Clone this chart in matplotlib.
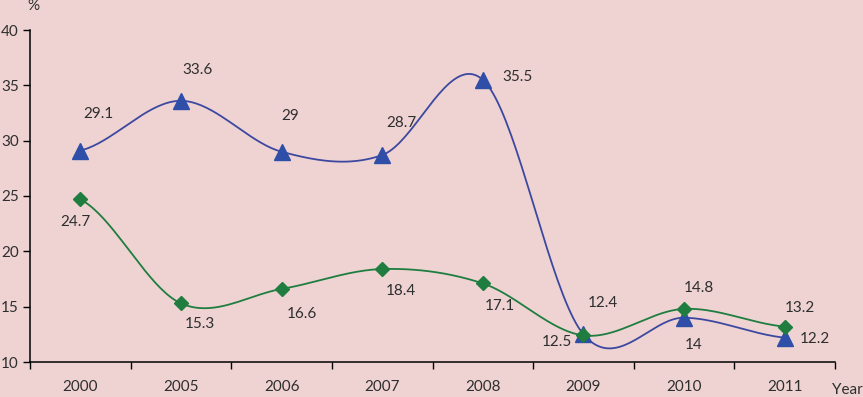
import matplotlib
matplotlib.use("Agg")
import matplotlib.pyplot as plt
import numpy as np

years = ["2000", "2005", "2006", "2007", "2008", "2009", "2010", "2011"]
blue_vals = [29.1, 33.6, 29.0, 28.7, 35.5, 12.5, 14.0, 12.2]
green_vals = [24.7, 15.3, 16.6, 18.4, 17.1, 12.4, 14.8, 13.2]
blue_text = ["29.1", "33.6", "29", "28.7", "35.5", "12.5", "14", "12.2"]
green_text = ["24.7", "15.3", "16.6", "18.4", "17.1", "12.4", "14.8", "13.2"]

# label offsets in pixels (dx, dy)
blue_off = [(18, 37), (17, 31), (9, 36), (19, 32), (35, 3), (-27, -8), (10, -27), (30, -1)]
green_off = [(-5, -23), (19, -21), (20, -25), (19, -22), (17, -23), (19, 32), (15, 21), (15, 19)]

BG = "#efd3d3"
BLUE_LINE = "#3c48a0"
BLUE_MK = "#2e4ea8"
GREEN = "#1e7d3f"
TXT = "#2e2e2e"


def smooth(y, n=40):
    # Catmull-Rom style bezier smoothing, like a spreadsheet "smoothed line"
    y = np.asarray(y, float)
    x = np.arange(len(y), dtype=float)
    xs, ys = [], []
    for i in range(len(y) - 1):
        p0 = y[i - 1] if i > 0 else y[i]
        p3 = y[i + 2] if i + 2 < len(y) else y[i + 1]
        c1 = y[i] + (y[i + 1] - p0) / 6.0
        c2 = y[i + 1] - (p3 - y[i]) / 6.0
        t = np.linspace(0, 1, n)
        b = ((1 - t) ** 3 * y[i] + 3 * (1 - t) ** 2 * t * c1
             + 3 * (1 - t) * t ** 2 * c2 + t ** 3 * y[i + 1])
        xs.append(x[i] + t)
        ys.append(b)
    return np.concatenate(xs), np.concatenate(ys)


plt.rcParams['font.family'] = ['Lato', 'DejaVu Sans']
fig = plt.figure(figsize=(8.63, 3.97), dpi=100, facecolor=BG)
ax = fig.add_axes([30 / 863, 35 / 397, 805 / 863, 332 / 397])
ax.set_facecolor(BG)

x = np.arange(len(years))
bx, by = smooth(blue_vals)
gx, gy = smooth(green_vals)
ax.plot(bx, by, color=BLUE_LINE, lw=1.3, zorder=2)
ax.plot(gx, gy, color=GREEN, lw=1.3, zorder=2)
ax.plot(x, blue_vals, ls="none", marker="^", ms=11, color=BLUE_MK, zorder=3)
ax.plot(x, green_vals, ls="none", marker="D", ms=7.5, color=GREEN, zorder=4)

FS = 11
for xi, v, t, off in zip(x, blue_vals, blue_text, blue_off):
    ax.annotate(t, (xi, v), xytext=off, textcoords="offset pixels",
                ha="center", va="center", fontsize=FS, color=TXT)
for xi, v, t, off in zip(x, green_vals, green_text, green_off):
    ax.annotate(t, (xi, v), xytext=off, textcoords="offset pixels",
                ha="center", va="center", fontsize=FS, color=TXT)

ax.set_xlim(-0.5, len(years) - 0.5)
ax.set_ylim(10, 40)
ax.set_yticks(range(10, 41, 5))
ax.set_xticks(x)
ax.set_xticklabels(years)
ax.set_xticks(np.arange(-0.5, len(years), 1), minor=True)
ax.tick_params(axis="x", which="major", length=0, pad=13, labelsize=FS, labelcolor=TXT)
ax.tick_params(axis="x", which="minor", length=5, direction="out", width=1)
ax.tick_params(axis="y", length=5, direction="out", width=1, pad=3, labelsize=FS, labelcolor=TXT)
for s in ["top", "right"]:
    ax.spines[s].set_visible(False)
for s in ["left", "bottom"]:
    ax.spines[s].set_color("black")
    ax.spines[s].set_linewidth(1.1)

fig.text(33 / 863, 1 - 6 / 397, "%", ha="center", va="center", fontsize=FS, color=TXT)
fig.text(832 / 863, 1 - 390 / 397, "Year", ha="left", va="center", fontsize=FS, color=TXT)

fig.savefig("out.png", dpi=100, facecolor=BG)
